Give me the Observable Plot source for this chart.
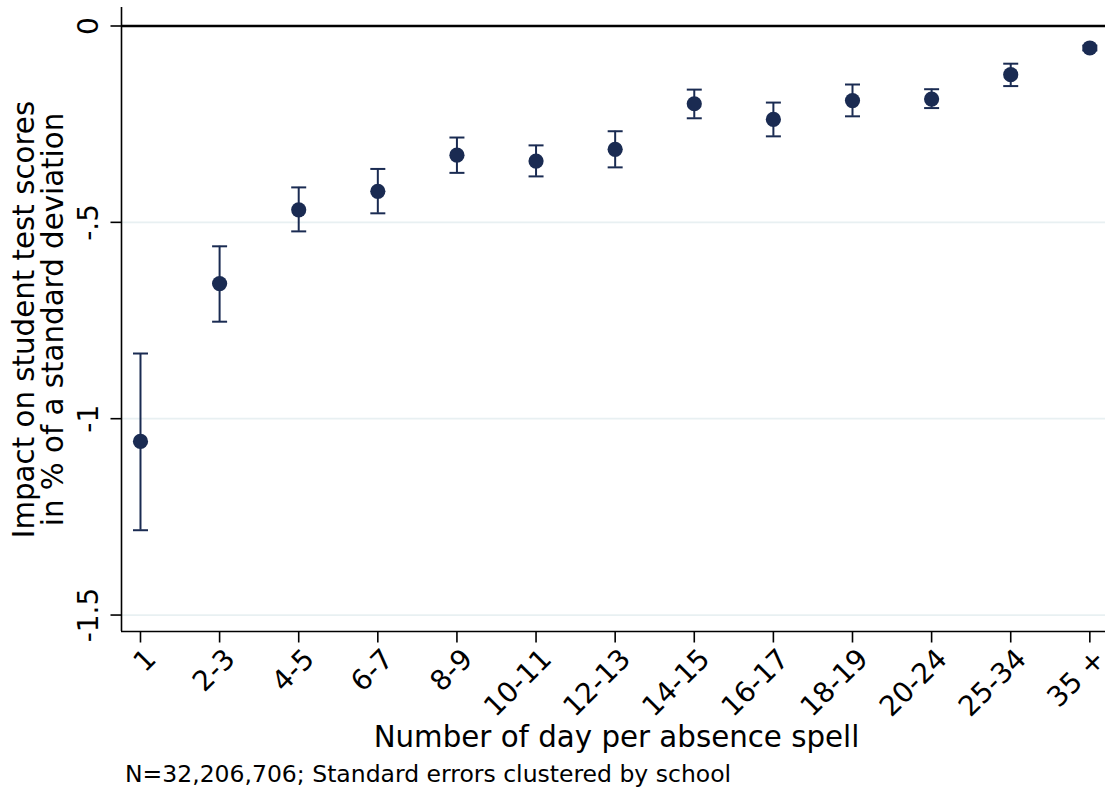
<!DOCTYPE html>
<html>
<head>
<meta charset="utf-8">
<script src="https://cdn.jsdelivr.net/npm/d3@7"></script>
<script src="https://cdn.jsdelivr.net/npm/@observablehq/plot@0.6"></script>
<style>
  html, body { margin: 0; padding: 0; background: #fff; }
  #chart svg { display: block; }
  #caption { font-family: "DejaVu Sans", sans-serif; font-size: 23.5px; color: #000; padding-left: 125px; line-height: normal; white-space: nowrap; margin-top: -1px; }
</style>
</head>
<body>
<div id="chart"></div>
<div id="caption">N=32,206,706; Standard errors clustered by school</div>
<script>
// Categories (number of days per absence spell)
const categories = ["1", "2-3", "4-5", "6-7", "8-9", "10-11", "12-13", "14-15", "16-17", "18-19", "20-24", "25-34", "35 +"];
// Point estimates (% of a standard deviation)
const estimates = [-1.058, -0.656, -0.468, -0.421, -0.329, -0.344, -0.314, -0.198, -0.238, -0.190, -0.186, -0.124, -0.056];
// Confidence interval bounds
const ciUpper = [-0.834, -0.561, -0.411, -0.364, -0.284, -0.304, -0.268, -0.162, -0.195, -0.149, -0.161, -0.096, -0.050];
const ciLower = [-1.284, -0.753, -0.523, -0.477, -0.374, -0.383, -0.360, -0.235, -0.281, -0.230, -0.209, -0.153, -0.062];
// Y ticks
const yTicks = [0, -0.5, -1, -1.5];
const yTickLabels = ["0", "-.5", "-1", "-1.5"];
const gridValues = [-0.5, -1, -1.5];

const xTitle = "Number of day per absence spell";
const yTitle1 = "Impact on student test scores";
const yTitle2 = "in % of a standard deviation";

const data = categories.map((c, i) => ({i, c, est: estimates[i], lo: ciLower[i], hi: ciUpper[i]}));

const navy = "#1a2b52";
const font = "DejaVu Sans";

const capSymbol = {
  draw(context, size) {
    const r = Math.sqrt(size / Math.PI);
    context.moveTo(-r, 0);
    context.lineTo(r, 0);
  }
};
const leftTick = {
  draw(context, size) {
    const r = Math.sqrt(size / Math.PI);
    context.moveTo(-r, 0);
    context.lineTo(0, 0);
  }
};
const downTick = {
  draw(context, size) {
    const r = Math.sqrt(size / Math.PI);
    context.moveTo(0, 0);
    context.lineTo(0, r);
  }
};

const xMin = -0.240, xMax = 12.198;
const yMin = -1.5419, yMax = 0.0471;

const chart = Plot.plot({
  width: 1105,
  height: 761,
  marginTop: 7,
  marginBottom: 130,
  marginLeft: 121,
  marginRight: 0,
  style: {fontFamily: font, background: "#fff", overflow: "visible"},
  x: {domain: [xMin, xMax], axis: null},
  y: {domain: [yMin, yMax], axis: null},
  marks: [
    // gridlines
    Plot.ruleY(gridValues, {stroke: "#e8f0f2", strokeWidth: 1.7}),
    // zero line
    Plot.ruleY([0], {stroke: "#000", strokeWidth: 2.5}),
    // axis lines
    Plot.ruleX([xMin], {stroke: "#000", strokeWidth: 1.6}),
    Plot.ruleY([yMin], {stroke: "#000", strokeWidth: 1.6}),
    // y ticks
    Plot.dot(yTicks, {x: () => xMin, y: d => d, symbol: leftTick, r: 11, stroke: "#000", strokeWidth: 1.6, fill: "none"}),
    // y tick labels
    Plot.text(yTicks, {y: d => d, frameAnchor: "left", text: (d, i) => yTickLabels[i], rotate: -90, textAnchor: "middle", lineAnchor: "bottom", dx: -24, fontSize: 28, fill: "#000"}),
    // x ticks
    Plot.dot(data, {x: "i", y: () => yMin, symbol: downTick, r: 11, stroke: "#000", strokeWidth: 1.6, fill: "none"}),
    // x tick labels
    Plot.text(data, {x: "i", frameAnchor: "bottom", text: "c", rotate: -45, textAnchor: "end", lineAnchor: "top", dx: 3, dy: 15, fontSize: 28, fill: "#000"}),
    // axis titles
    Plot.text([xTitle], {frameAnchor: "bottom", text: d => d, lineAnchor: "bottom", dy: 115, dx: 3, fontSize: 29.3, fill: "#000"}),
    Plot.text([yTitle1], {frameAnchor: "left", text: d => d, rotate: -90, textAnchor: "middle", lineAnchor: "bottom", dx: -88, fontSize: 29.3, fill: "#000"}),
    Plot.text([yTitle2], {frameAnchor: "left", text: d => d, rotate: -90, textAnchor: "middle", lineAnchor: "bottom", dx: -59, fontSize: 29.3, fill: "#000"}),
    // error bars
    Plot.ruleX(data, {x: "i", y1: "lo", y2: "hi", stroke: navy, strokeWidth: 2}),
    Plot.dot(data, {x: "i", y: "lo", symbol: capSymbol, r: 7.5, stroke: navy, strokeWidth: 2, fill: "none"}),
    Plot.dot(data, {x: "i", y: "hi", symbol: capSymbol, r: 7.5, stroke: navy, strokeWidth: 2, fill: "none"}),
    // points
    Plot.dot(data, {x: "i", y: "est", r: 7.6, fill: navy, stroke: "none"})
  ]
});
document.getElementById("chart").appendChild(chart);
</script>
</body>
</html>
